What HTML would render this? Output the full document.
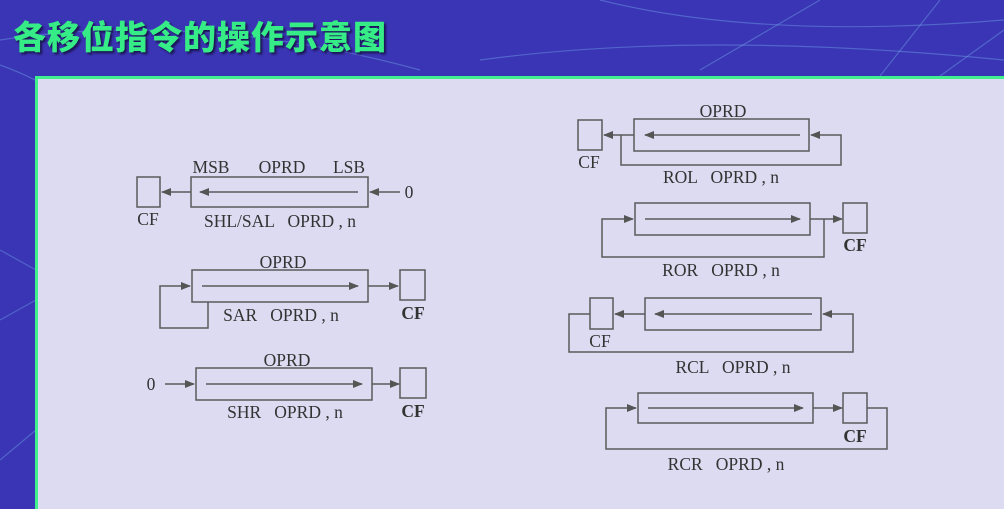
<!DOCTYPE html>
<html><head><meta charset="utf-8"><style>
html,body{margin:0;padding:0;}
body{width:1004px;height:492px;overflow:hidden;background:#3a35b4;position:relative;}
.title{position:absolute;left:13px;top:11px;font-family:"Liberation Sans","Noto Sans CJK SC",sans-serif;font-weight:900;font-size:33px;color:#36ec86;letter-spacing:1px;text-shadow:2px 2px 2px #1a1450;}
.panel{position:absolute;left:35px;top:76px;width:980px;height:430px;background:#dddbf1;border-top:3px solid #3ff08c;border-left:3px solid #3ff08c;}
svg{position:absolute;left:0;top:0;}
text{white-space:pre;}
</style></head><body>
<svg width="1004" height="492">
<g stroke="rgba(110,160,230,0.45)" stroke-width="1.2" fill="none">
<path d="M0 40 Q200 10 420 70"/><path d="M0 65 Q150 120 36 200"/><path d="M600 0 Q760 40 1004 20"/><path d="M700 70 L820 0"/><path d="M880 76 L940 0"/><path d="M940 76 L1004 30"/><path d="M0 250 L36 270"/><path d="M0 320 L36 300"/><path d="M0 460 L36 430"/><path d="M480 60 Q700 30 1004 60"/>
</g>
</svg>
<div class="title">各移位指令的操作示意图</div>
<div class="panel"></div>
<svg width="1004" height="492">
<defs><marker id="a" markerWidth="10" markerHeight="8" refX="9" refY="4" orient="auto" markerUnits="userSpaceOnUse"><path d="M0,0 L10,4 L0,8z" fill="#555"/></marker></defs>
<g stroke="#5a5a5a" stroke-width="1.5" fill="none">
<rect x="137" y="177" width="23" height="30"/><rect x="191" y="177" width="177" height="30"/>
<line x1="358" y1="192" x2="200" y2="192" marker-end="url(#a)"/>
<line x1="191" y1="192" x2="162" y2="192" marker-end="url(#a)"/>
<line x1="400" y1="192" x2="370" y2="192" marker-end="url(#a)"/>
<rect x="192" y="270" width="176" height="32"/><rect x="400" y="270" width="25" height="30"/>
<line x1="202" y1="286" x2="358" y2="286" marker-end="url(#a)"/>
<line x1="368" y1="286" x2="398" y2="286" marker-end="url(#a)"/>
<polyline points="208,302 208,328 160,328 160,286 190,286" marker-end="url(#a)"/>
<rect x="196" y="368" width="176" height="32"/><rect x="400" y="368" width="26" height="30"/>
<line x1="165" y1="384" x2="194" y2="384" marker-end="url(#a)"/>
<line x1="206" y1="384" x2="362" y2="384" marker-end="url(#a)"/>
<line x1="372" y1="384" x2="399" y2="384" marker-end="url(#a)"/>
<rect x="578" y="120" width="24" height="30"/><rect x="634" y="119" width="175" height="32"/>
<line x1="800" y1="135" x2="645" y2="135" marker-end="url(#a)"/>
<line x1="634" y1="135" x2="604" y2="135" marker-end="url(#a)"/>
<polyline points="621,135 621,165 841,165 841,135 811,135" marker-end="url(#a)"/>
<rect x="635" y="203" width="175" height="32"/><rect x="843" y="203" width="24" height="30"/>
<line x1="645" y1="219" x2="800" y2="219" marker-end="url(#a)"/>
<line x1="810" y1="219" x2="842" y2="219" marker-end="url(#a)"/>
<polyline points="824,219 824,257 602,257 602,219 633,219" marker-end="url(#a)"/>
<rect x="590" y="298" width="23" height="31"/><rect x="645" y="298" width="176" height="32"/>
<line x1="812" y1="314" x2="655" y2="314" marker-end="url(#a)"/>
<line x1="645" y1="314" x2="615" y2="314" marker-end="url(#a)"/>
<polyline points="590,314 569,314 569,352 853,352 853,314 823,314" marker-end="url(#a)"/>
<rect x="638" y="393" width="175" height="30"/><rect x="843" y="393" width="24" height="30"/>
<line x1="648" y1="408" x2="803" y2="408" marker-end="url(#a)"/>
<line x1="813" y1="408" x2="842" y2="408" marker-end="url(#a)"/>
<polyline points="867,408 887,408 887,449 606,449 606,408 636,408" marker-end="url(#a)"/>
</g>
<g font-family="Liberation Serif,serif" font-size="17.5" fill="#333" text-anchor="middle">
<text x="211" y="173">MSB</text><text x="282" y="173">OPRD</text><text x="349" y="173">LSB</text>
<text x="409" y="198">0</text><text x="148" y="225">CF</text><text x="280" y="227">SHL/SAL   OPRD , n</text>
<text x="283" y="268">OPRD</text><text x="281" y="321">SAR   OPRD , n</text><text x="413" y="319" font-weight="bold">CF</text>
<text x="287" y="366">OPRD</text><text x="151" y="390">0</text><text x="285" y="418">SHR   OPRD , n</text><text x="413" y="417" font-weight="bold">CF</text>
<text x="723" y="117">OPRD</text><text x="589" y="168">CF</text><text x="721" y="183">ROL   OPRD , n</text>
<text x="855" y="251" font-weight="bold">CF</text><text x="721" y="276">ROR   OPRD , n</text>
<text x="600" y="347">CF</text><text x="733" y="373">RCL   OPRD , n</text>
<text x="855" y="442" font-weight="bold">CF</text><text x="726" y="470">RCR   OPRD , n</text>
</g>
</svg>
</body></html>
